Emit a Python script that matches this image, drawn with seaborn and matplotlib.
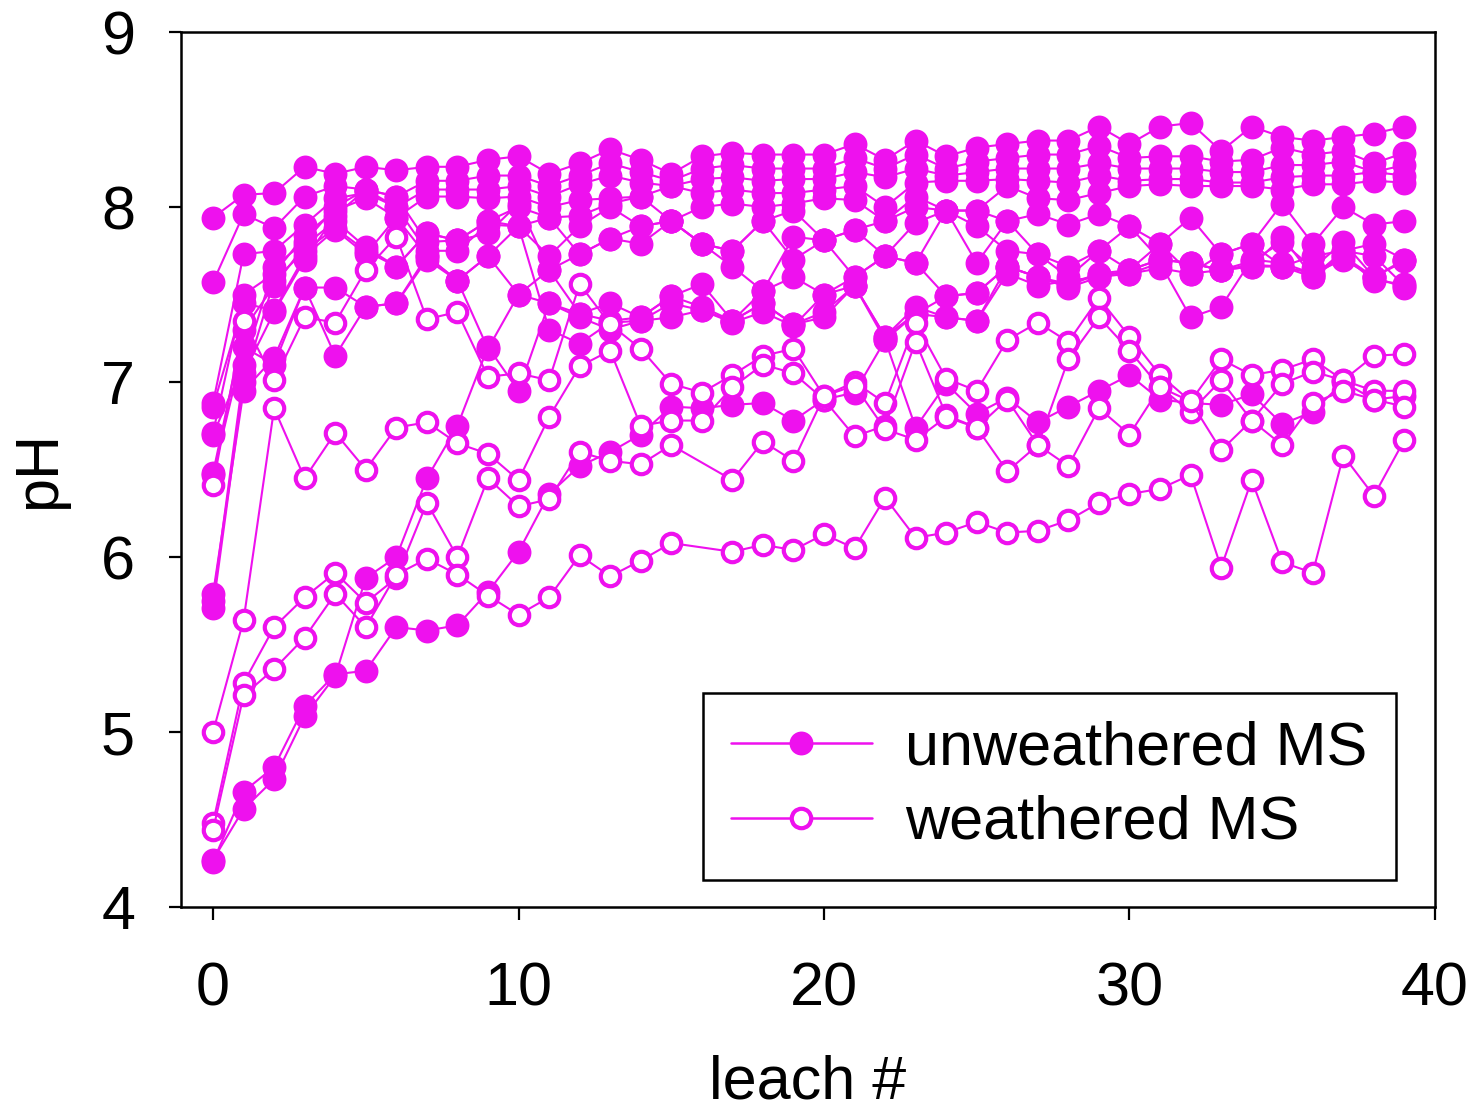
import numpy as np
import pandas as pd
import matplotlib
matplotlib.use("Agg")
import matplotlib.pyplot as plt
from matplotlib.lines import Line2D
import seaborn as sns

# ---------------- data ----------------
leach = list(range(40))

# unweathered MS (filled circles)
u01 = [7.94, 8.07, 8.08, 8.23, 8.19, 8.23, 8.21, 8.23, 8.23, 8.27, 8.29, 8.19, 8.25, 8.33, 8.27, 8.19, 8.29, 8.31, 8.30, 8.30,
       8.30, 8.36, 8.27, 8.38, 8.29, 8.34, 8.36, 8.38, 8.38, 8.46, 8.36, 8.46, 8.48, 8.32, 8.46, 8.40, 8.38, 8.40, 8.42, 8.46]
u02 = [7.57, 7.96, 7.88, 8.06, 8.12, 8.10, 8.06, 8.15, 8.15, 8.18, 8.18, 8.12, 8.18, 8.25, 8.20, 8.15, 8.22, 8.24, 8.22, 8.22,
       8.22, 8.28, 8.22, 8.30, 8.22, 8.26, 8.28, 8.30, 8.30, 8.35, 8.28, 8.29, 8.29, 8.26, 8.27, 8.34, 8.30, 8.32, 8.25, 8.31]
u03 = [6.88, 7.73, 7.75, 7.90, 8.05, 8.08, 8.00, 8.10, 8.10, 8.10, 8.12, 8.06, 8.13, 8.18, 8.14, 8.12, 8.16, 8.17, 8.15, 8.16,
       8.16, 8.20, 8.17, 8.22, 8.18, 8.20, 8.22, 8.22, 8.22, 8.25, 8.22, 8.22, 8.22, 8.20, 8.20, 8.24, 8.24, 8.26, 8.20, 8.24]
u04 = [6.71, 7.50, 7.62, 7.84, 7.98, 8.05, 7.94, 8.06, 8.06, 8.05, 8.06, 8.00, 8.04, 8.05, 8.06, 8.12, 8.08, 8.10, 8.08, 8.08,
       8.10, 8.12, 8.00, 8.14, 8.15, 8.15, 8.16, 8.15, 8.14, 8.18, 8.15, 8.16, 8.16, 8.14, 8.14, 8.17, 8.18, 8.18, 8.20, 8.18]
u05 = [6.48, 7.30, 7.55, 7.78, 7.92, 7.77, 7.66, 7.85, 7.81, 7.92, 7.89, 7.94, 7.95, 8.02, 8.06, 7.92, 8.00, 8.02, 8.00, 8.02,
       8.05, 8.04, 7.92, 8.06, 7.98, 7.98, 8.12, 8.05, 8.04, 8.08, 8.12, 8.13, 8.12, 8.12, 8.12, 8.10, 8.13, 8.13, 8.15, 8.14]
u06 = [6.86, 7.45, 7.41, 7.72, 7.87, 7.73, 7.94, 7.72, 7.58, 7.72, 7.89, 7.72, 7.89, 8.00, 7.89, 7.92, 7.79, 7.75, 7.92, 7.98,
       7.81, 7.87, 7.92, 8.00, 7.98, 7.98, 7.92, 7.96, 7.90, 7.96, 7.89, 7.79, 7.94, 7.73, 7.79, 8.02, 7.79, 8.00, 7.90, 7.92]
u07 = [6.70, 7.10, 7.66, 7.80, 8.00, 8.10, 8.06, 7.80, 7.81, 7.92, 8.00, 7.94, 7.73, 7.82, 7.79, 7.92, 7.79, 7.66, 7.52, 7.83,
       7.81, 7.87, 7.72, 7.91, 7.98, 7.89, 7.75, 7.73, 7.66, 7.75, 7.64, 7.70, 7.68, 7.64, 7.66, 7.83, 7.60, 7.75, 7.79, 7.70]
u08 = [5.79, 6.95, 7.14, 7.54, 7.54, 7.43, 7.45, 7.72, 7.58, 7.72, 7.50, 7.64, 7.39, 7.45, 7.37, 7.49, 7.56, 7.35, 7.52, 7.60,
       7.50, 7.60, 7.72, 7.68, 7.49, 7.51, 7.66, 7.60, 7.54, 7.60, 7.64, 7.79, 7.62, 7.73, 7.79, 7.66, 7.72, 7.75, 7.72, 7.55]
u09 = [5.71, 7.00, 7.58, 7.75, 7.88, 7.75, 7.66, 7.85, 7.81, 7.85, 8.02, 7.64, 7.73, 7.82, 7.89, 7.92, 7.79, 7.75, 7.92, 7.70,
       7.81, 7.60, 7.72, 7.68, 7.98, 7.68, 7.92, 7.73, 7.60, 7.75, 7.89, 7.70, 7.68, 7.64, 7.69, 7.80, 7.65, 7.80, 7.60, 7.70]
u10 = [6.47, 7.20, 7.10, 7.54, 7.15, 7.43, 7.45, 7.70, 7.58, 7.19, 7.50, 7.45, 7.39, 7.35, 7.37, 7.49, 7.43, 7.35, 7.45, 7.33,
       7.37, 7.55, 7.26, 7.43, 7.37, 7.35, 7.66, 7.60, 7.56, 7.62, 7.62, 7.68, 7.37, 7.43, 7.70, 7.68, 7.62, 7.72, 7.58, 7.56]
u11 = [5.75, 7.05, 7.40, 7.70, 7.95, 8.10, 8.00, 7.75, 7.75, 7.90, 7.89, 7.30, 7.22, 7.34, 7.35, 7.37, 7.41, 7.34, 7.40, 7.32,
       7.50, 7.55, 7.24, 7.39, 7.49, 7.51, 7.66, 7.60, 7.55, 7.62, 7.64, 7.70, 7.68, 7.64, 7.66, 7.66, 7.60, 7.72, 7.60, 7.69]
u12 = [4.27, 4.56, 4.73, 5.09, 5.32, 5.88, 6.00, 6.45, 6.75, 7.20, 6.95, 7.45, 7.37, 7.30, 7.35, 7.45, 7.41, 7.35, 7.45, 7.33,
       7.40, 7.55, 7.26, 7.39, 7.37, 7.35, 7.62, 7.55, 7.58, 7.60, 7.62, 7.65, 7.62, 7.64, 7.67, 7.66, 7.62, 7.70, 7.60, 7.54]
u13 = [4.26, 4.66, 4.80, 5.15, 5.33, 5.35, 5.60, 5.58, 5.61, 5.80, 6.03, 6.36, 6.52, 6.60, 6.70, 6.86, 6.85, 6.87, 6.88, 6.78,
       6.90, 6.94, 7.24, 6.74, 6.99, 6.82, 6.91, 6.77, 6.86, 6.95, 7.04, 6.90, 6.88, 6.87, 6.93, 6.76, 6.83, 7.00, 6.90, 6.92]

# weathered MS (open circles)
w01 = [6.41, 7.35, 7.01, 7.37, 7.34, 7.64, 7.83, 7.36, 7.40, 7.03, 7.05, 7.01, 7.56, 7.33, 7.19, 6.99, 6.94, 7.04, 7.15, 7.19,
       6.92, 7.00, 6.88, 7.34, 7.02, 6.95, 7.24, 7.34, 7.23, 7.48, 7.26, 7.04, 6.89, 7.13, 7.04, 7.07, 7.13, 7.01, 7.15, 7.16]
w02 = [5.00, 5.64, 6.85, 6.45, 6.71, 6.50, 6.74, 6.77, 6.65, 6.59, 6.44, 6.80, 7.09, 7.18, 6.75, 6.78, 6.78, 6.97, 7.10, 7.05,
       6.90, 6.69, 6.75, 7.23, 6.81, 6.74, 6.90, 6.64, 7.13, 7.37, 7.18, 6.97, 6.83, 7.01, 6.78, 6.99, 7.06, 7.01, 6.95, 6.95]
w03 = [4.48, 5.28, 5.60, 5.77, 5.91, 5.74, 5.88, 6.31, 6.00, 6.45, 6.29, 6.33, 6.60, 6.55, 6.53, 6.64, np.nan, 6.44, 6.66, 6.55,
       6.92, 6.98, 6.73, 6.67, 6.80, 6.74, 6.49, 6.64, 6.52, 6.85, 6.70, 6.97, 6.89, 6.61, 6.78, 6.64, 6.88, 6.95, 6.90, 6.86]
w04 = [4.44, 5.21, 5.36, 5.54, 5.79, 5.60, 5.90, 5.99, 5.90, 5.78, 5.67, 5.77, 6.01, 5.89, 5.98, 6.08, np.nan, 6.03, 6.07, 6.04,
       6.13, 6.05, 6.34, 6.11, 6.14, 6.20, 6.14, 6.15, 6.21, 6.31, 6.36, 6.39, 6.47, 5.94, 6.44, 5.97, 5.91, 6.58, 6.35, 6.67]

unweathered = [u01, u02, u03, u04, u05, u06, u07, u08, u09, u10, u11, u12, u13]
weathered = [w01, w02, w03, w04]
labels = ["unweathered MS", "weathered MS"]


def long_frame(series_list, name):
    rows = []
    for i, s in enumerate(series_list):
        for x, y in zip(leach, s):
            rows.append({"leach": x, "pH": y, "sample": f"{name}{i}"})
    return pd.DataFrame(rows).dropna()


df_u = long_frame(unweathered, "u")
df_w = long_frame(weathered, "w")

# ---------------- style ----------------
sns.set_theme(style="white")
plt.rcParams["font.family"] = ["Liberation Sans", "DejaVu Sans"]
plt.rcParams["text.color"] = "black"
plt.rcParams["axes.labelcolor"] = "black"
MAG = "#ee11ee"

fig = plt.figure(figsize=(14.76, 11.09), dpi=100)
ax = fig.add_axes([0.1226, 0.1821, 0.8496, 0.789])

sns.lineplot(data=df_u, x="leach", y="pH", units="sample", estimator=None, sort=True,
             color=MAG, linewidth=1.5, marker="o", markersize=16, markeredgewidth=1.2,
             markerfacecolor=MAG, markeredgecolor=MAG, legend=False, ax=ax)
sns.lineplot(data=df_w, x="leach", y="pH", units="sample", estimator=None, sort=True,
             color=MAG, linewidth=1.5, marker="o", markersize=14, markeredgewidth=3.0,
             markerfacecolor="white", markeredgecolor=MAG, legend=False, ax=ax)

ax.set_xlim(-1.05, 40)
ax.set_ylim(4, 9)
ax.set_xticks([0, 10, 20, 30, 40])
ax.set_yticks([4, 5, 6, 7, 8, 9])

for sp in ax.spines.values():
    sp.set_color("black")
    sp.set_linewidth(1.8)
    sp.set_visible(True)

ax.tick_params(axis="both", which="major", direction="out", length=9, width=1.6,
               color="black", labelsize=44, labelcolor="black")
ax.tick_params(axis="x", pad=30, bottom=True, top=False)
ax.tick_params(axis="y", pad=24, left=True, right=False)

ax.set_xlabel("leach #", fontsize=44, labelpad=26, color="black")
ax.set_ylabel("pH", fontsize=44, labelpad=24, color="black")

handles = [
    Line2D([], [], color=MAG, linewidth=1.8, marker="o", markersize=16,
           markerfacecolor=MAG, markeredgecolor=MAG, markeredgewidth=1.2),
    Line2D([], [], color=MAG, linewidth=1.8, marker="o", markersize=14,
           markerfacecolor="white", markeredgecolor=MAG, markeredgewidth=3.0),
]
leg = ax.legend(handles, labels, loc="lower left", bbox_to_anchor=(0.4163, 0.0309),
                borderaxespad=0, fontsize=44, frameon=True, fancybox=False,
                handlelength=2.3, handletextpad=0.55, borderpad=0.46, labelspacing=0.28,
                edgecolor="black", framealpha=1)
leg.get_frame().set_linewidth(1.8)
for t in leg.get_texts():
    t.set_color("black")

fig.savefig("out.png", dpi=100, facecolor="white")
